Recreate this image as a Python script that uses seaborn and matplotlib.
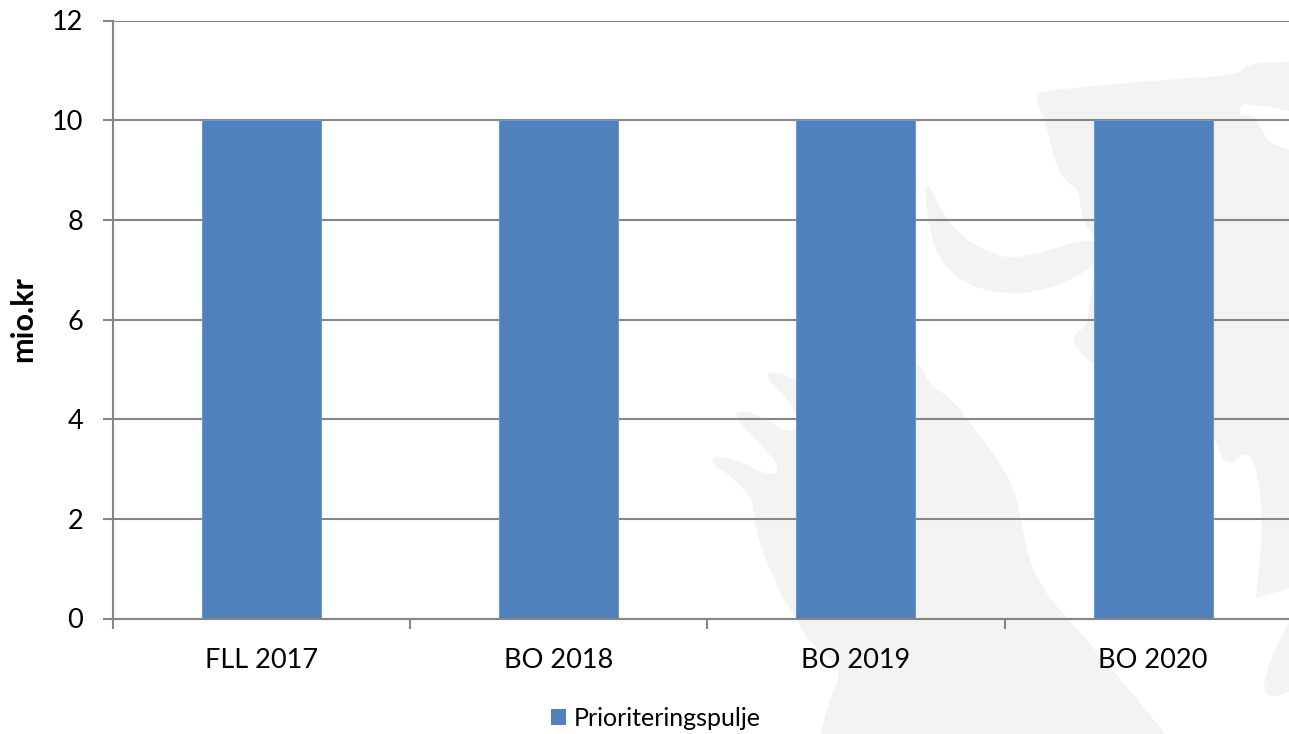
import numpy as np
import pandas as pd
import matplotlib
matplotlib.use("Agg")
import matplotlib.pyplot as plt
from matplotlib.patches import Polygon, Patch
from matplotlib.transforms import Affine2D
import seaborn as sns

categories = ["FLL 2017", "BO 2018", "BO 2019", "BO 2020"]
values = [10, 10, 10, 10]
series_name = "Prioriteringspulje"
y_ticks = [0, 2, 4, 6, 8, 10, 12]
y_label = "mio.kr"

W, H = 1289, 734
sns.set_theme(style="white")
plt.rcParams["font.family"] = ["Lato", "DejaVu Sans"]

GREY = "#868686"
BLUE = "#4F81BD"
WM = "#F3F3F1"
FS = 19.5

fig = plt.figure(figsize=(W / 100, H / 100), dpi=100, facecolor="white")
px = Affine2D().scale(1 / W, -1 / H).translate(0, 1) + fig.transFigure


def smooth(points, n=2):
    p = np.array(points, float)
    for _ in range(n):
        q = np.roll(p, -1, axis=0)
        p = np.column_stack([0.75 * p + 0.25 * q, 0.25 * p + 0.75 * q]).reshape(-1, 2)
    return p


# faint background watermark (decoration only)
body = [(705, 458), (732, 457), (770, 477), (783, 467), (728, 413), (753, 411), (797, 438),
        (797, 408), (761, 374), (782, 372), (797, 383), (915, 355), (931, 387), (950, 397),
        (973, 427), (996, 457), (1015, 490), (1022, 527), (1030, 563), (1045, 593),
        (1072, 623), (1110, 667), (1175, 745), (1175, 760), (815, 760), (820, 734), (831, 697), (843, 670),
        (808, 640), (797, 620), (782, 597), (763, 553), (755, 527), (753, 500), (736, 480)]
head = [(1035, 97), (1038, 91), (1160, 80), (1238, 75), (1245, 66), (1265, 62), (1340, 62),
        (1340, 574), (1256, 598), (1256, 598), (1264, 513), (1252, 446), (1225, 470), (1213, 427), (1095, 365),
        (1085, 358), (1074, 345), (1074, 335), (1087, 325), (1090, 300), (1093, 285), (1100, 240),
        (1090, 232), (1082, 217), (1078, 188), (1067, 183), (1055, 163), (1047, 127)]
jaw = [(922, 168), (950, 230), (1000, 259), (1033, 255), (1100, 235), (1100, 265), (1043, 292),
       (1000, 294), (960, 282), (932, 250)]
claw = [(1330, 560), (1330, 670), (1257, 708), (1276, 640)]
eye = [(1239, 108), (1247, 102), (1340, 122), (1340, 155), (1273, 148), (1262, 130), (1253, 115), (1240, 115)]
for shape, col in [(body, WM), (head, WM), (jaw, WM), (claw, WM), (eye, "white")]:
    fig.add_artist(Polygon(smooth(shape), closed=True, transform=px, facecolor=col, edgecolor="none", zorder=-5))

# axes run past the right edge of the figure, as in the reference
left, right, top, bottom = 112.8, 1301.8, 20.5, 618.5
ax = fig.add_axes([left / W, 1 - bottom / H, (right - left) / W, (bottom - top) / H])
ax.patch.set_alpha(0)

df = pd.DataFrame({"period": categories, "value": values})
sns.barplot(data=df, x="period", y="value", color=BLUE, width=0.4, saturation=1,
            edgecolor="#6E97CB", linewidth=0.8, ax=ax, zorder=3)

ax.set_xlim(-0.5, len(categories) - 0.5)
ax.set_ylim(min(y_ticks), max(y_ticks))
ax.set_yticks(y_ticks)
ax.set_xticks(np.arange(len(categories)), categories)
ax.set_xticks(np.arange(len(categories) + 1) - 0.5, minor=True)

ax.grid(False)
ax.yaxis.grid(True, color=GREY, linewidth=1.5, zorder=1)
ax.set_axisbelow(True)
for name, spine in ax.spines.items():
    spine.set_visible(name in ("left", "bottom"))
    spine.set_color(GREY)
    spine.set_linewidth(1.5)
    spine.set_zorder(5)

ax.tick_params(axis="y", length=7.2, width=1.5, color=GREY, left=True, pad=14,
               labelsize=FS, labelcolor="black")
ax.tick_params(axis="x", which="major", length=0, pad=21, labelsize=FS, labelcolor="black")
ax.tick_params(axis="x", which="minor", length=7.2, width=1.5, color=GREY, bottom=True)

ax.set_xlabel("")
ax.set_ylabel(y_label, fontsize=22, fontweight="bold", color="black")
ax.yaxis.set_label_coords(37 / W, 1 - 319 / H, transform=fig.transFigure)

handle = Patch(facecolor=BLUE, edgecolor="none", label=series_name)
fig.legend(handles=[handle], loc="center", bbox_to_anchor=(656 / W, 1 - 718 / H),
           frameon=False, fontsize=18, handlelength=0.6, handleheight=0.6,
           handletextpad=0.3, borderpad=0, labelcolor="black")

fig.savefig("out.png", dpi=100, facecolor="white")
